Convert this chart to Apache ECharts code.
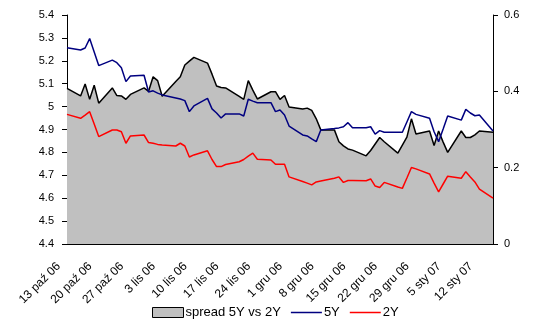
<!DOCTYPE html>
<html>
<head>
<meta charset="utf-8">
<script src="https://cdn.jsdelivr.net/npm/echarts@6/dist/echarts.min.js"></script>
<style>
html,body{margin:0;padding:0;background:#fff;}
#chart{width:539px;height:322px;}
</style>
</head>
<body>
<div id="chart"></div>
<script>
// Trading dates
const dates = [
 '2006-10-13',
 '2006-10-16','2006-10-17','2006-10-18','2006-10-19','2006-10-20',
 '2006-10-23','2006-10-24','2006-10-25','2006-10-26','2006-10-27',
 '2006-10-30','2006-10-31','2006-11-01','2006-11-02','2006-11-03',
 '2006-11-06','2006-11-07','2006-11-08','2006-11-09','2006-11-10',
 '2006-11-13','2006-11-14','2006-11-15','2006-11-16','2006-11-17',
 '2006-11-20','2006-11-21','2006-11-22','2006-11-23','2006-11-24',
 '2006-11-27','2006-11-28','2006-11-29','2006-11-30','2006-12-01',
 '2006-12-04','2006-12-05','2006-12-06','2006-12-07','2006-12-08',
 '2006-12-11','2006-12-12','2006-12-13','2006-12-14','2006-12-15',
 '2006-12-18','2006-12-19','2006-12-20','2006-12-21','2006-12-22',
 '2006-12-25','2006-12-26','2006-12-27','2006-12-28','2006-12-29',
 '2007-01-01','2007-01-02','2007-01-03','2007-01-04','2007-01-05',
 '2007-01-08','2007-01-09','2007-01-10','2007-01-11','2007-01-12',
 '2007-01-15'
];
// spread 5Y vs 2Y (right axis)
const spread = [
 0.408,
 0.388,0.419,0.379,0.416,0.369,
 0.409,0.389,0.388,0.379,0.392,
 0.409,0.400,0.438,0.428,0.387,
 0.426,0.438,0.469,0.479,0.489,
 0.474,0.445,0.414,0.410,0.409,
 0.387,0.379,0.428,0.403,0.380,
 0.399,0.399,0.379,0.389,0.359,
 0.354,0.356,0.350,0.328,0.299,
 0.299,0.268,0.257,0.249,0.246,
 0.231,0.245,0.262,0.279,0.268,
 0.238,0.259,0.280,0.328,0.288,
 0.296,0.258,0.296,0.267,0.240,
 0.296,0.279,0.279,0.286,0.296,
 0.293
];
// 5Y yield (left axis)
const y5 = [
 5.257,
 5.247,5.256,5.297,5.238,5.179,
 5.203,5.192,5.170,5.109,5.134,
 5.137,5.064,5.069,5.059,5.051,
 5.038,5.033,5.026,4.978,5.003,
 5.036,4.990,4.972,4.950,4.968,
 4.968,4.959,5.032,5.024,5.017,
 5.017,4.978,4.985,4.963,4.915,
 4.876,4.872,4.859,4.847,4.898,
 4.904,4.907,4.912,4.930,4.908,
 4.908,4.912,4.880,4.895,4.888,
 4.888,4.888,4.933,4.978,4.966,
 4.949,4.890,4.847,4.902,4.959,
 4.941,4.988,4.972,4.960,4.963,
 4.893
];
// 2Y yield (left axis)
const y2 = [
 4.966,
 4.949,4.963,4.978,4.924,4.869,
 4.898,4.898,4.890,4.840,4.872,
 4.876,4.843,4.840,4.835,4.832,
 4.828,4.840,4.828,4.780,4.789,
 4.807,4.769,4.738,4.738,4.747,
 4.759,4.769,4.784,4.797,4.770,
 4.767,4.748,4.748,4.748,4.693,
 4.673,4.666,4.658,4.671,4.675,
 4.687,4.693,4.669,4.677,4.677,
 4.676,4.684,4.653,4.647,4.669,
 4.649,4.643,4.688,4.734,4.728,
 4.706,4.666,4.628,4.662,4.696,
 4.687,4.716,4.693,4.671,4.640,
 4.600
];
const seriesNames = ['spread 5Y vs 2Y', '5Y', '2Y'];
const monthNames = ['sty','lut','mar','kwi','maj','cze','lip','sie','wrz','paź','lis','gru'];
const axisStart = '2006-10-13';
const axisEnd = '2007-01-15';

// calendar-day category axis (date axis)
function toUTC(s){ const p = s.split('-'); return Date.UTC(+p[0], +p[1]-1, +p[2]); }
const DAY = 86400000;
const t0 = toUTC(axisStart), t1 = toUTC(axisEnd);
const days = [];
for (let t = t0; t <= t1; t += DAY) {
  days.push(new Date(t).toISOString().slice(0,10));
}
function align(vals){
  const arr = days.map(() => null);
  dates.forEach((s,i) => { arr[Math.round((toUTC(s)-t0)/DAY)] = vals[i]; });
  return arr;
}
function fmt(s){
  const p = s.split('-');
  return (+p[2]) + ' ' + monthNames[+p[1]-1] + ' ' + p[0].slice(2);
}
// thin horizontal line icon (tiny corner specks fix the 31x10 box)
const lineIcon = 'path://M0,0L0.01,0L0.01,0.01ZM0,4.25L31,4.25L31,5.75L0,5.75ZM31,10L30.99,10L30.99,9.99Z';

const font = 'Liberation Sans, Arial, sans-serif';
const chart = echarts.init(document.getElementById('chart'), null, {renderer:'canvas'});
chart.setOption({
  animation: false,
  backgroundColor: '#ffffff',
  grid: {left: 67, right: 46, top: 15, bottom: 78, containLabel: false},
  legend: {
    top: 301, left: 147,
    itemWidth: 31, itemHeight: 10, itemGap: 10,
    textStyle: {fontFamily: font, fontSize: 13, color: '#000', padding: [0, 0, 0, -3]},
    data: [
      {name: seriesNames[0], icon: 'rect', itemStyle: {color: '#C0C0C0', borderColor: '#000', borderWidth: 1}},
      {name: seriesNames[1], icon: lineIcon, itemStyle: {color: '#000080', borderWidth: 0}},
      {name: seriesNames[2], icon: lineIcon, itemStyle: {color: '#FF0000', borderWidth: 0}}
    ]
  },
  xAxis: {
    type: 'category',
    data: days,
    boundaryGap: false,
    axisLine: {show: true, lineStyle: {color: '#000', width: 1}},
    axisTick: {show: false},
    splitLine: {show: false},
    axisLabel: {
      interval: 6, rotate: 45, margin: 12, padding: [0, 12, 0, 0],
      fontFamily: font, fontSize: 12, color: '#000',
      formatter: (v) => fmt(v)
    }
  },
  yAxis: [
    {
      type: 'value', min: 4.4, max: 5.4, interval: 0.1, position: 'left',
      axisLine: {show: true, lineStyle: {color: '#000', width: 1}},
      axisTick: {show: true, length: 5, lineStyle: {color: '#000'}},
      splitLine: {show: false},
      axisLabel: {margin: 13, fontFamily: font, fontSize: 11, color: '#000',
        formatter: (v) => String(+v.toFixed(1))}
    },
    {
      type: 'value', min: 0, max: 0.6, interval: 0.2, position: 'right',
      axisLine: {show: true, lineStyle: {color: '#000', width: 1}},
      axisTick: {show: true, length: 5, lineStyle: {color: '#000'}},
      splitLine: {show: false},
      axisLabel: {margin: 11, fontFamily: font, fontSize: 11, color: '#000',
        formatter: (v) => String(+v.toFixed(1))}
    }
  ],
  series: [
    {
      name: seriesNames[0], type: 'line', yAxisIndex: 1,
      data: align(spread), connectNulls: true, symbol: 'none',
      lineStyle: {color: '#000', width: 1.5},
      itemStyle: {color: '#C0C0C0', borderColor: '#000'},
      areaStyle: {color: '#C0C0C0', opacity: 1}
    },
    {
      name: seriesNames[1], type: 'line', yAxisIndex: 0,
      data: align(y5), connectNulls: true, symbol: 'none',
      lineStyle: {color: '#000080', width: 1.5},
      itemStyle: {color: '#000080'}
    },
    {
      name: seriesNames[2], type: 'line', yAxisIndex: 0,
      data: align(y2), connectNulls: true, symbol: 'none',
      lineStyle: {color: '#FF0000', width: 1.5},
      itemStyle: {color: '#FF0000'}
    }
  ]
});
</script>
</body>
</html>
